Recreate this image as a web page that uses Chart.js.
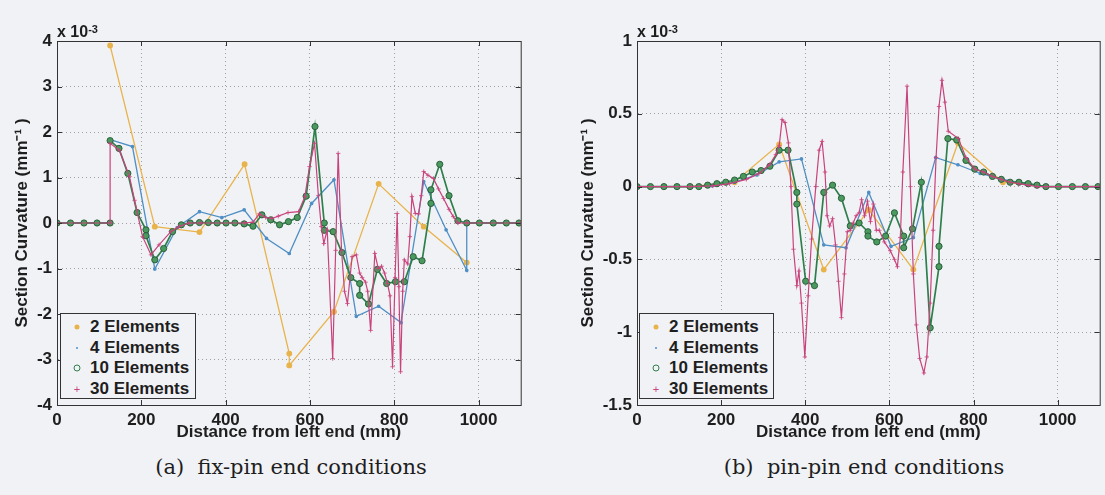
<!DOCTYPE html>
<html>
<head>
<meta charset="utf-8">
<script src="https://cdn.jsdelivr.net/npm/chart.js@4.4.0/dist/chart.umd.min.js"></script>
<style>
body { margin:0; background:#f1f2f6; width:1105px; height:495px; position:relative; overflow:hidden; font-family:"Liberation Sans", Arial, sans-serif; color:#1e1e1e; }
canvas { position:absolute; top:0; }
#c1 { left:0; }
#c2 { left:550px; }
.mult { position:absolute; top:24px; font-weight:bold; font-size:16px; line-height:16px; }
.mult sup { font-size:11px; position:relative; top:-3px; vertical-align:top; }
.legend { position:absolute; top:313px; height:86px; border:1.5px solid #333; background:#f1f2f6; padding-top:3px; box-sizing:border-box; }
.row { position:relative; height:20.6px; line-height:20.6px; padding-left:29px; font-weight:bold; font-size:17px; white-space:nowrap; }
.mk { position:absolute; left:16px; top:10px; transform:translate(-50%,-50%); }
.caption { position:absolute; top:455px; font-family:"DejaVu Serif", serif; font-size:21px; text-align:center; }
</style>
</head>
<body>
<canvas id="c1" width="526" height="450"></canvas>
<canvas id="c2" width="555" height="450"></canvas>
<div class="mult" style="left:57px">x 10<sup>-3</sup></div>
<div class="mult" style="left:637px">x 10<sup>-3</sup></div>
<div class="legend" id="leg1" style="left:60px;width:136px"></div>
<div class="legend" id="leg2" style="left:639px;width:135px"></div>
<div class="caption" style="left:111px;width:360px">(a)&nbsp; fix-pin end conditions</div>
<div class="caption" style="left:684px;width:360px">(b)&nbsp; pin-pin end conditions</div>
<script>
const names = ["2 Elements", "4 Elements", "10 Elements", "30 Elements"];
const colors = ["#e9b34c", "#4f8fc4", "#2f7f4c", "#c8437c"];
const xTicks = [0, 200, 400, 600, 800, 1000];

// (a) fix-pin, curvature x 1e-3 per mm
const fix2X = [0, 126, 126, 126, 232, 338, 445, 551, 551, 657, 763, 870, 972, 972, 972, 1100];
const fix2Y = [0, 0, null, 3.9, -0.08, -0.2, 1.29, -2.87, -3.13, -1.95, 0.86, -0.08, -0.87, null, 0, 0];

const fix4X = [0, 126, 126, 126, 179, 232, 285, 338, 391, 444, 497, 551, 604, 657, 710, 763, 816, 870, 923, 972, 972, 1100];
const fix4Y = [0, 0, null, 1.83, 1.68, -1.01, -0.1, 0.25, 0.12, 0.29, -0.34, -0.67, 0.43, 0.95, -2.05, -1.83, -2.19, 0.91, -0.15, -1.04, 0, 0];

const fix10X = [0, 32, 64, 95, 126, 126, 126, 147, 168, 190, 211, 211, 232, 253, 274, 295, 316, 338, 359, 380, 401, 422, 444, 465, 486, 507, 528, 549, 570, 591, 612, 634, 634, 655, 676, 697, 718, 718, 739, 760, 782, 803, 824, 845, 866, 887, 887, 908, 930, 951, 972, 1002, 1035, 1066, 1096];
const fix10Y = [0, 0, 0, 0, 0, null, 1.81, 1.64, 1.09, 0.23, -0.15, -0.28, -0.81, -0.56, -0.19, -0.04, 0, 0.01, 0.01, 0, 0, 0, -0.02, -0.07, 0.18, 0.07, -0.04, 0.03, 0.12, 0.59, 2.12, 0, -0.16, -0.19, -0.65, -1.2, -1.33, -1.59, -1.78, -1.02, -1.33, -1.29, -1.29, -0.74, -0.83, 0.43, 0.73, 1.29, 0.6, 0.05, 0, 0, 0, 0, 0];

const fix30X = [0, 126, 126, 148, 172, 184, 203, 223, 242, 270, 289, 313, 340, 445, 465, 480, 495, 510, 525, 548, 573, 588, 599, 611, 620, 627, 633, 641, 654, 661, 667, 675, 682, 689, 700, 710, 718, 724, 732, 737, 744, 754, 762, 770, 777, 784, 790, 796, 802, 807, 811, 815, 820, 824, 832, 837, 842, 850, 858, 864, 870, 880, 893, 905, 917, 930, 940, 951, 972, 1100];
const fix30Y = [0, 0, 1.75, 1.6, 1.02, 0.5, -0.3, -0.7, -0.48, -0.19, -0.08, 0, 0, 0, 0.02, 0.2, 0.12, 0.1, 0.15, 0.23, 0.25, 0.58, 1.24, 1.75, 0.6, -0.08, -0.45, -0.15, -2.98, -0.6, 1.53, -0.6, -1.5, -1.77, -0.74, -0.7, -1.1, -1.2, -1.3, -1.5, -2.36, -0.67, -1.0, -0.95, -1.1, -1.33, -1.6, -3.16, -1.2, 0.21, -1.4, -3.27, -1.5, -0.81, -0.9, -0.3, 0.58, 0.21, 0.2, 0.6, 1.13, 1.05, 0.98, 0.75, 0.54, 0.3, 0.14, 0, 0, 0];

// (b) pin-pin
const pin2X = [0, 126, 232, 338, 444, 551, 657, 763, 870, 972, 1100];
const pin2Y = [0, 0, 0.03, 0.29, -0.57, -0.16, -0.57, 0.3, 0.03, 0, 0];

const pin4X = [0, 126, 179, 232, 285, 338, 391, 444, 497, 551, 604, 657, 710, 763, 816, 870, 923, 972, 1100];
const pin4Y = [0, 0, 0.005, 0.03, 0.08, 0.17, 0.19, -0.4, -0.42, -0.04, -0.41, -0.35, 0.2, 0.15, 0.09, 0.05, 0.02, 0, 0];

const pin10X = [0, 32, 64, 95, 126, 147, 168, 190, 211, 232, 253, 274, 295, 316, 338, 359, 380, 380, 401, 422, 444, 465, 486, 507, 528, 549, 549, 570, 591, 612, 634, 634, 655, 676, 697, 718, 718, 739, 760, 782, 803, 824, 845, 866, 887, 908, 930, 951, 972, 1002, 1035, 1066, 1096];
const pin10Y = [0, 0, 0, 0, 0, 0, 0.01, 0.02, 0.03, 0.045, 0.07, 0.1, 0.11, 0.14, 0.25, 0.25, -0.04, -0.12, -0.65, -0.68, -0.04, 0.01, -0.08, -0.27, -0.25, -0.31, -0.34, -0.38, -0.34, -0.18, -0.34, -0.42, -0.29, 0.03, -0.97, -0.55, -0.41, 0.33, 0.32, 0.18, 0.12, 0.1, 0.07, 0.05, 0.03, 0.03, 0.02, 0.01, 0, 0, 0, 0, 0];

const pin30X = [0, 126, 180, 220, 260, 290, 315, 330, 338, 345, 352, 360, 366, 372, 380, 385, 391, 399, 407, 415, 425, 433, 440, 447, 452, 458, 465, 472, 479, 486, 493, 500, 507, 514, 521, 528, 534, 541, 548, 555, 562, 569, 576, 588, 602, 612, 619, 626, 632, 642, 650, 657, 664, 672, 682, 689, 697, 704, 711, 718, 725, 732, 740, 764, 782, 803, 824, 845, 866, 887, 908, 930, 951, 972, 1100];
const pin30Y = [0, 0, 0.005, 0.02, 0.05, 0.09, 0.15, 0.22, 0.28, 0.46, 0.44, 0.3, 0, -0.43, -0.68, -0.58, -0.8, -1.17, -0.75, -0.36, 0, 0.25, 0.31, 0.1, -0.2, -0.27, -0.22, -0.4, -0.65, -0.9, -0.6, -0.31, -0.3, -0.25, -0.2, -0.18, -0.09, -0.2, -0.1, -0.24, -0.12, -0.3, -0.3, -0.38, -0.44, -0.5, -0.55, -0.35, 0.1, 0.69, 0, -0.6, -0.95, -1.18, -1.28, -1.17, -0.8, -0.3, 0.2, 0.55, 0.73, 0.58, 0.38, 0.33, 0.2, 0.12, 0.1, 0.07, 0.05, 0.03, 0.02, 0.01, 0, 0, 0];

const pts = (xs, ys) => xs.map((x, i) => ({x: x, y: ys[i]}));

function makeSets(s) {
  return [
    {label: names[0], data: pts(s[0], s[1]), borderColor: colors[0], backgroundColor: colors[0], borderWidth: 1.3, pointRadius: 2.3, pointStyle: 'circle', order: 4},
    {label: names[1], data: pts(s[2], s[3]), borderColor: colors[1], backgroundColor: colors[1], borderWidth: 1.3, pointRadius: 1.2, pointStyle: 'circle', order: 3},
    {label: names[2], data: pts(s[4], s[5]), borderColor: colors[2], backgroundColor: '#4a9a60', pointBorderColor: '#2a5e3a', borderWidth: 1.7, pointRadius: 3.1, pointBorderWidth: 1, pointStyle: 'circle', order: 2},
    {label: names[3], data: pts(s[6], s[7]), borderColor: colors[3], backgroundColor: colors[3], borderWidth: 1.2, pointRadius: 2.2, pointBorderWidth: 0.8, pointStyle: 'cross', order: 1}
  ];
}

const frame = {
  id: 'frame',
  afterDraw(chart) {
    const ctx = chart.ctx, a = chart.chartArea, sx = chart.scales.x, sy = chart.scales.y;
    ctx.save();
    ctx.strokeStyle = '#333';
    ctx.lineWidth = 1;
    ctx.strokeRect(a.left + 0.5, a.top + 0.5, a.right - a.left, a.bottom - a.top);
    ctx.beginPath();
    sx.ticks.forEach(t => {
      const p = Math.round(sx.getPixelForValue(t.value)) + 0.5;
      ctx.moveTo(p, a.bottom); ctx.lineTo(p, a.bottom - 5);
      ctx.moveTo(p, a.top); ctx.lineTo(p, a.top + 5);
    });
    sy.ticks.forEach(t => {
      const p = Math.round(sy.getPixelForValue(t.value)) + 0.5;
      ctx.moveTo(a.left, p); ctx.lineTo(a.left + 5, p);
      ctx.moveTo(a.right, p); ctx.lineTo(a.right - 5, p);
    });
    ctx.stroke();
    ctx.restore();
  }
};

const tickFont = {family: '"Liberation Sans", Arial, sans-serif', size: 17, weight: 'bold'};

function draw(id, sets, yMin, yMax, yStep, yWidth, padRight, titlePad) {
  new Chart(document.getElementById(id).getContext('2d'), {
    type: 'line',
    data: {datasets: sets},
    plugins: [frame],
    options: {
      responsive: false,
      animation: false,
      layout: {padding: {top: 41, right: padRight, left: 0, bottom: 0}},
      elements: {line: {tension: 0}},
      plugins: {legend: {display: false}, tooltip: {enabled: false}},
      scales: {
        x: {
          type: 'linear', min: 0, max: 1100,
          afterBuildTicks: s => { s.ticks = xTicks.map(v => ({value: v})); },
          afterFit: s => { s.height = 45; },
          ticks: {font: tickFont, color: '#1e1e1e', padding: 5, callback: v => String(v)},
          grid: {color: '#a0a0a0', drawTicks: false},
          border: {color: '#333', dash: [1, 3]},
          title: {display: true, text: 'Distance from left end (mm)', font: tickFont, color: '#1e1e1e', padding: {top: 0, bottom: 7}}
        },
        y: {
          min: yMin, max: yMax,
          afterFit: s => { s.width = yWidth; },
          ticks: {font: tickFont, color: '#1e1e1e', padding: 5, stepSize: yStep, callback: v => String(Math.round(v * 10) / 10)},
          grid: {color: '#a0a0a0', drawTicks: false},
          border: {color: '#333', dash: [1, 3]},
          title: {display: true, text: 'Section Curvature (mm\u207B\u00B9 )', font: tickFont, color: '#1e1e1e', padding: {top: titlePad, bottom: 0}}
        }
      }
    }
  });
}

draw('c1', makeSets([fix2X, fix2Y, fix4X, fix4Y, fix10X, fix10Y, fix30X, fix30Y]), -4, 4, 1, 57, 3, 12);
draw('c2', makeSets([pin2X, pin2Y, pin4X, pin4Y, pin10X, pin10Y, pin30X, pin30Y]), -1.5, 1, 0.5, 87, 1, 28);

function legend(id) {
  const box = document.getElementById(id);
  const marks = [
    '<span class="mk" style="width:5px;height:5px;border-radius:50%;background:' + colors[0] + '"></span>',
    '<span class="mk" style="width:2px;height:2px;border-radius:50%;background:' + colors[1] + '"></span>',
    '<span class="mk" style="width:5px;height:5px;border-radius:50%;border:1px solid ' + colors[2] + '"></span>',
    '<span class="mk" style="color:' + colors[3] + ';font-size:11px;font-weight:normal;line-height:11px">+</span>'
  ];
  box.innerHTML = names.map((n, i) => '<div class="row">' + marks[i] + n + '</div>').join('');
}
legend('leg1');
legend('leg2');
</script>
</body>
</html>
